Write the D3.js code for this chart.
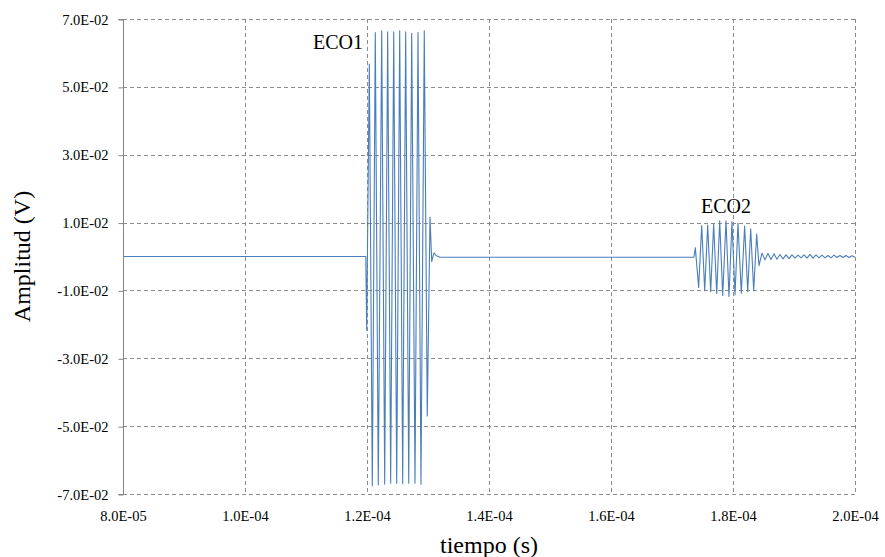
<!DOCTYPE html>
<html>
<head>
	<title>Ecos - amplitud vs tiempo</title>
	<script src="https://d3js.org/d3.v7.min.js"></script>
	<style type="text/css">
		body { margin:0; background:#fff; }
		svg { display:block; }
		svg text { font-family:"Liberation Serif", "Times New Roman", Times, "DejaVu Serif", serif !important; fill:#000; }
		.grid line { stroke:#8c8c8c; stroke-dasharray:4,3; stroke-width:1; }
	</style>
</head>
<body>
<script type="text/javascript">

// times in microseconds, amplitudes in volts
var leadTimes = [80, 119.8];
var leadAmps  = [0, 0];

var echo1Times = [119.95, 120.38, 120.87, 121.36, 121.85, 122.41, 122.90, 123.39, 123.88, 124.38,
                  124.87, 125.36, 125.85, 126.34, 126.84, 127.33, 127.87, 128.36, 128.85, 129.39,
                  129.88, 130.33, 130.61, 130.98, 131.39, 131.97];
var echo1Amps  = [-0.0217, 0.0567, -0.0676, 0.0660, -0.0673, 0.0665, -0.0671, 0.0662, -0.0668, 0.0662,
                  -0.0668, 0.0665, -0.0670, 0.0662, -0.0668, 0.0658, -0.0668, 0.0660, -0.0671, 0.0665,
                  -0.0470, 0.0116, -0.0015, 0.0011, 0.0002, -0.0002];

var gapTimes = [150, 173.60];
var gapAmps  = [-0.0002, -0.0002];

var echo2Times = [173.82, 174.37, 174.87, 175.36, 175.85, 176.34, 176.83, 177.33, 177.82, 178.31,
                  178.85, 179.34, 179.83, 180.33, 180.82, 181.36, 181.91, 182.41, 182.90, 183.39,
                  183.88, 184.26];
var echo2Amps  = [0.0026, -0.0091, 0.0091, -0.0101, 0.0093, -0.0104, 0.0096, -0.0109, 0.0105, -0.0115,
                  0.0105, -0.0118, 0.0102, -0.0113, 0.0098, -0.0108, 0.0090, -0.0104, 0.0082, -0.0101,
                  0.0066, -0.0027];

var ringTimes = [184.75, 185.24, 185.73, 186.23, 186.72, 187.21, 187.70, 188.20, 188.69, 189.18,
                 189.67, 190.16, 190.66, 191.15, 191.64, 192.13, 192.62, 193.11, 193.61, 194.10,
                 194.59, 195.08, 195.57, 196.07, 196.56, 197.05, 197.54, 198.03, 198.52, 199.02,
                 199.51, 200.00];
var ringAmps  = [0.0010, -0.0010, 0.0009, -0.0009, 0.0008, -0.0008, 0.0006, -0.0007, 0.0005, -0.0006,
                 0.0005, -0.0005, 0.0004, -0.0004, 0.0005, -0.0005, 0.0006, -0.0005, 0.0005, -0.0004,
                 0.0004, -0.0004, 0.0003, -0.0004, 0.0004, -0.0003, 0.0003, -0.0003, 0.0003, -0.0003,
                 0.0002, -0.0002];

var xTicks = [8e-5, 1e-4, 1.2e-4, 1.4e-4, 1.6e-4, 1.8e-4, 2e-4];
var xTickLabels = ["8.0E-05", "1.0E-04", "1.2E-04", "1.4E-04", "1.6E-04", "1.8E-04", "2.0E-04"];
var yTicks = [0.07, 0.05, 0.03, 0.01, -0.01, -0.03, -0.05, -0.07];
var yTickLabels = ["7.0E-02", "5.0E-02", "3.0E-02", "1.0E-02", "-1.0E-02", "-3.0E-02", "-5.0E-02", "-7.0E-02"];

var notes = [
	{label:"ECO1", t:1.1934e-4, v:0.0612, anchor:"end"},
	{label:"ECO2", t:1.7885e-4, v:0.0128, anchor:"middle"}
];

var W = 885, H = 557;
var pLeft = 123, pRight = 855, pTop = 19, pBottom = 494;
var serif = "'Liberation Serif', 'Times New Roman', Times, 'DejaVu Serif', serif";

// build the trace
var trace = [];
function addSeg(ts, vs){
	for(var i=0;i<ts.length;i++){ trace.push({t:ts[i]*1e-6, v:vs[i]}); }
}
addSeg(leadTimes, leadAmps);
addSeg(echo1Times, echo1Amps);
addSeg(gapTimes, gapAmps);
addSeg(echo2Times, echo2Amps);
addSeg(ringTimes, ringAmps);

var svg = d3.select("body").append("svg")
	.attr("width", W)
	.attr("height", H)
	.attr("font-family", serif);

var x = d3.scaleLinear().domain([8e-5, 2e-4]).range([pLeft, pRight]);
var y = d3.scaleLinear().domain([-0.07, 0.07]).range([pBottom, pTop]);

// gridlines
var grid = svg.append("g").attr("class","grid");
grid.selectAll("line.h")
	.data(yTicks)
	.enter().append("line")
		.attr("class","h")
		.attr("x1", pLeft).attr("x2", pRight)
		.attr("y1", function(d){return Math.round(y(d))+0.5;})
		.attr("y2", function(d){return Math.round(y(d))+0.5;});
grid.selectAll("line.v")
	.data(xTicks.slice(1))
	.enter().append("line")
		.attr("class","v")
		.attr("y1", pTop).attr("y2", pBottom)
		.attr("x1", function(d){return Math.round(x(d))+0.5;})
		.attr("x2", function(d){return Math.round(x(d))+0.5;});

// y axis
var yAxis = d3.axisLeft(y)
	.tickValues(yTicks)
	.tickSize(5)
	.tickPadding(10)
	.tickFormat(function(d,i){return yTickLabels[i];});
var ga = svg.append("g")
	.attr("transform","translate(" + (pLeft+0.5) + ",0.5)")
	.call(yAxis)
	.attr("font-family", serif)
	.attr("font-size", 14.5);
ga.select(".domain").attr("stroke","#868686").attr("d","M-5," + pTop + "H0V" + pBottom + "H-5");
ga.selectAll(".tick line").attr("stroke","#868686");
ga.selectAll(".tick text").attr("fill","#000");

// x axis labels (no ticks)
var xAxis = d3.axisBottom(x)
	.tickValues(xTicks)
	.tickSize(0)
	.tickPadding(17)
	.tickFormat(function(d,i){return xTickLabels[i];});
var gx = svg.append("g")
	.attr("transform","translate(0," + pBottom + ")")
	.call(xAxis)
	.attr("font-family", serif)
	.attr("font-size", 14.5);
gx.select(".domain").remove();
gx.selectAll(".tick text").attr("fill","#000");

// the trace
var line = d3.line()
	.x(function(d){return x(d.t);})
	.y(function(d){return y(d.v);});
svg.append("path")
	.datum(trace)
	.attr("d", line)
	.attr("fill","none")
	.attr("stroke","#4a7ebb")
	.attr("stroke-width",1.1)
	.attr("stroke-linejoin","round");

// echo labels
svg.selectAll("text.note")
	.data(notes)
	.enter().append("text")
		.attr("class","note")
		.attr("x", function(d){return x(d.t);})
		.attr("y", function(d){return y(d.v);})
		.attr("text-anchor", function(d){return d.anchor;})
		.attr("font-size", 20)
		.text(function(d){return d.label;});

// axis titles
svg.append("text")
	.attr("x", (pLeft+pRight)/2)
	.attr("y", 553)
	.attr("text-anchor","middle")
	.attr("font-size", 24)
	.text("tiempo (s)");
svg.append("text")
	.attr("transform","translate(30," + ((pTop+pBottom)/2) + ") rotate(-90)")
	.attr("text-anchor","middle")
	.attr("font-size", 24)
	.text("Amplitud (V)");

</script>
</body>
</html>
